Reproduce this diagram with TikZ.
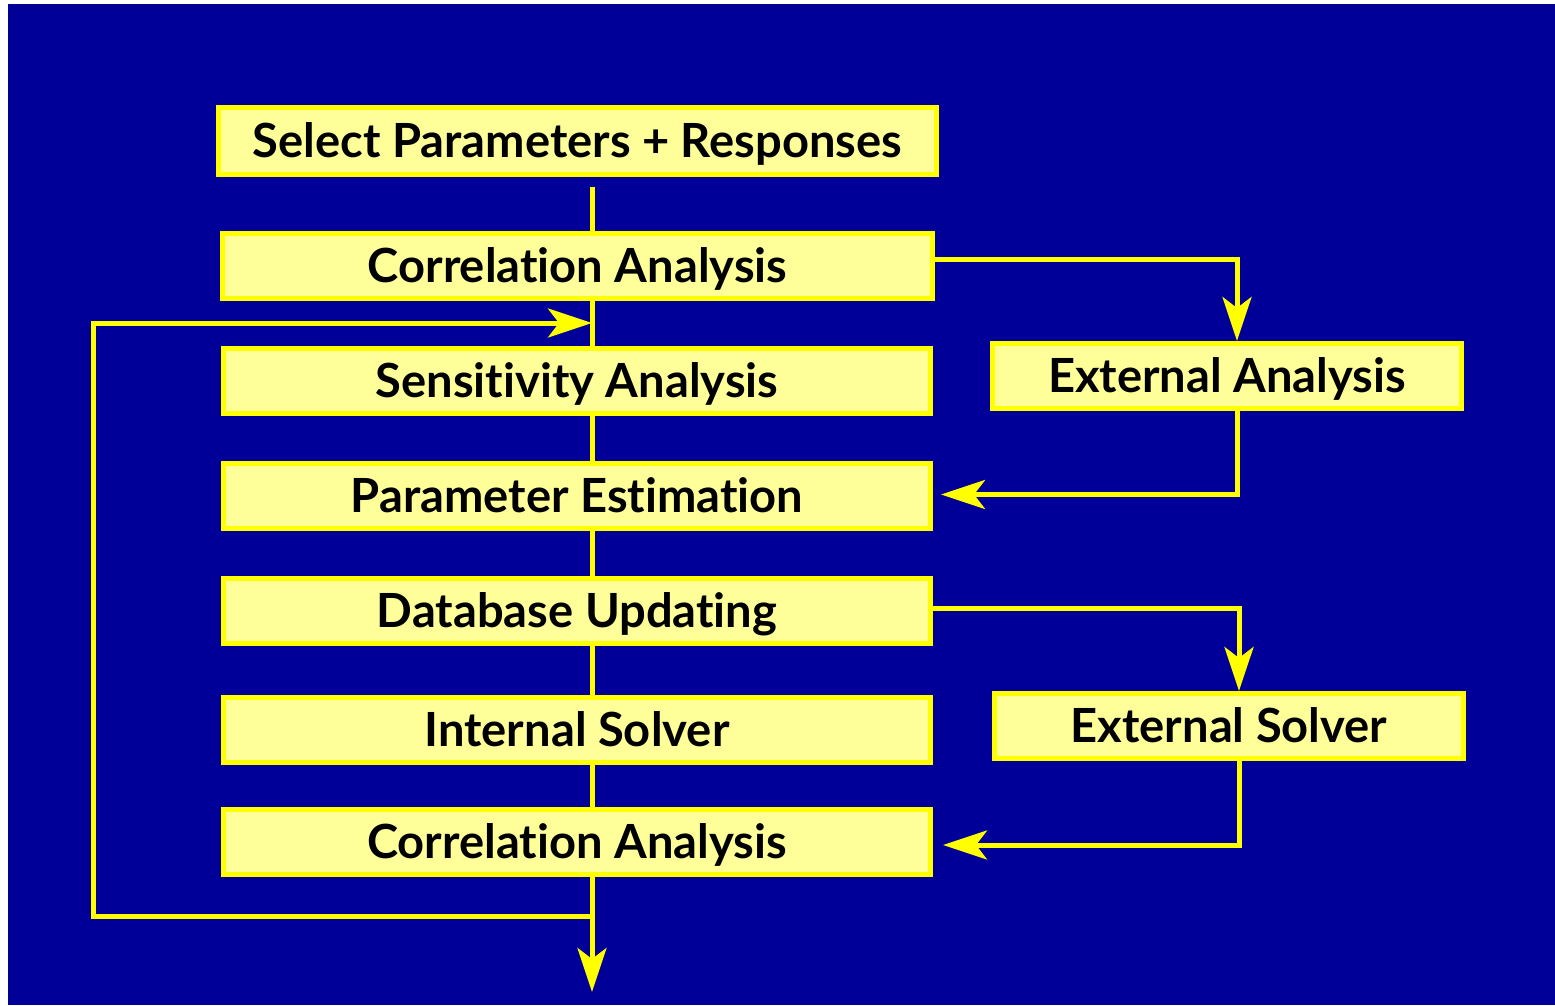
\documentclass[tikz,border=0pt]{standalone}
\usepackage{fontspec}
\setmainfont[Ligatures=CommonOff]{Lato}
\usepackage{tikz}
\usepackage{xcolor}
\usetikzlibrary{arrows.meta,calc,positioning}
\definecolor{slideblue}{RGB}{0,0,153}
\definecolor{boxfill}{RGB}{255,255,153}
\definecolor{boxline}{RGB}{255,255,0}

\begin{document}
\begin{tikzpicture}[x=0.02cm,y=-0.02cm,>=Stealth,
  stepbox/.style={draw=boxline,fill=boxfill,line width=0.1cm,inner sep=0pt,
    minimum height=65*0.02cm,text height=19.3pt,text depth=0pt,
    font=\fontsize{26.8}{31}\selectfont\bfseries},
  wire/.style={boxline,line width=0.1cm},
  flow/.style={wire,-{Stealth[length=0.88cm,width=0.58cm,inset=0.22cm]}}]
  \useasboundingbox (0,0) rectangle (1555,1005);
  \fill[slideblue] (8,4) rectangle (1555,1005);
  \coordinate (tk) at (592,0);
  \coordinate (split) at (592,916);
  \coordinate (join) at (592,323);
  \coordinate (out) at (592,992);
  \coordinate (lo) at (93,916);
  \coordinate (hi) at (93,323);
  \node[stepbox,minimum width=718*0.02cm,minimum height=67*0.02cm] (sel) at (577.5,141) {Select Parameters + Responses};
  \node[stepbox,minimum width=710*0.02cm] (ca1) at (577.5,266) {Correlation Analysis};
  \node[stepbox,minimum width=707*0.02cm] (sa) at (577,380.5) {Sensitivity Analysis};
  \node[stepbox,minimum width=707*0.02cm] (pe) at (577,495.5) {Parameter Estimation};
  \node[stepbox,minimum width=707*0.02cm] (du) at (577,610.5) {Database Updating};
  \node[stepbox,minimum width=707*0.02cm] (is) at (577,730) {Internal Solver};
  \node[stepbox,minimum width=707*0.02cm] (ca2) at (577,842) {Correlation Analysis};
  \node[stepbox,minimum width=469*0.02cm] (ea) at (1227,376) {External Analysis};
  \node[stepbox,minimum width=469*0.02cm] (es) at (1229,726) {External Solver};
  \draw[wire] ($(sel.south -| tk)+(0,10)$) -- (ca1.north -| tk);
  \draw[wire] (ca1.south -| tk) -- (sa.north -| tk);
  \draw[wire] (sa.south -| tk) -- (pe.north -| tk);
  \draw[wire] (pe.south -| tk) -- (du.north -| tk);
  \draw[wire] (du.south -| tk) -- (is.north -| tk);
  \draw[wire] (is.south -| tk) -- (ca2.north -| tk);
  \draw[flow] (ca2.south -| tk) -- (out);
  \draw[flow] (split) -- (lo) -- (hi) -- (join);
  \draw[flow] ($(ca1.east)+(0,-7)$) -| ($(ea.north)+(10,0)$);
  \draw[flow] ($(ea.south)+(10,0)$) |- ($(pe.east)+(8,-1)$);
  \draw[flow] ($(du.east)+(0,-2)$) -| ($(es.north)+(10,0)$);
  \draw[flow] ($(es.south)+(10,0)$) |- ($(ca2.east)+(10,3)$);
\end{tikzpicture}
\end{document}
